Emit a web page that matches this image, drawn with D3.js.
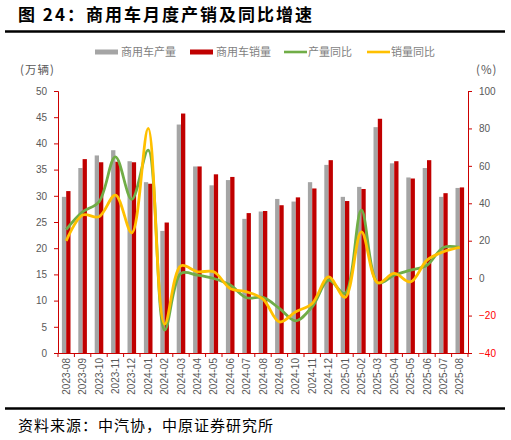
<!DOCTYPE html>
<html>
<head>
<meta charset="utf-8">
<script src="https://cdn.jsdelivr.net/npm/d3@7"></script>
<style>
  body { margin: 0; background: #fff; }
  text { font-family: "Noto Sans CJK SC", "Noto Sans", sans-serif; }
</style>
</head>
<body>
<div id="chart"></div>
<script>
var months = ["2023-08","2023-09","2023-10","2023-11","2023-12","2024-01","2024-02","2024-03","2024-04",
  "2024-05","2024-06","2024-07","2024-08","2024-09","2024-10","2024-11","2024-12","2025-01","2025-02",
  "2025-03","2025-04","2025-05","2025-06","2025-07","2025-08"];

// 万辆
var production = [29.8,35.3,37.7,38.7,36.6,32.6,23.3,43.6,35.6,32.0,33.0,25.6,27.0,29.4,28.9,32.6,35.9,
  29.8,31.7,43.1,36.2,33.5,35.3,29.8,31.5];
var sales = [30.9,37.0,36.4,36.5,36.4,32.3,24.9,45.7,35.6,34.1,33.6,26.7,27.1,28.2,29.7,31.4,36.8,
  29.0,31.3,44.7,36.6,33.3,36.8,30.5,31.6];

// %
var prodYoy = [26.0,35.4,40.8,64.8,42.1,68.4,-27.8,2.5,1.6,-0.2,-3.7,-10.5,-10.3,-16.2,-22.8,-15.3,-1.1,
  -8.2,36.3,-2.5,1.6,4.3,6.9,16.4,16.4];
var salesYoy = [19.9,33.7,32.8,44.4,24.2,80.0,-24.6,6.6,3.4,3.4,-5.5,-7.3,-11.2,-23.4,-18.0,-13.5,0.7,
  -10.3,24.7,-2.5,2.5,-2.0,9.6,14.1,16.4];

var leftTicks = [0,5,10,15,20,25,30,35,40,45,50];
var rightTicks = [-40,-20,0,20,40,60,80,100];

var width = 511, height = 440;
var margin = {left: 58, right: 43, top: 91, bottom: 87};
var grey = "#595959", axisRed = "#cc0000";

var svg = d3.select("#chart").append("svg")
    .attr("width", width)
    .attr("height", height);

// title
svg.append("text")
    .attr("x", 18).attr("y", 21)
    .style("font-size", "17px").style("font-weight", "bold")
    .style("letter-spacing", "2px")
    .attr("fill", "#000")
    .text("图 24：商用车月度产销及同比增速");
svg.append("line")
    .attr("x1", 5).attr("x2", 505).attr("y1", 31.5).attr("y2", 31.5)
    .attr("stroke", "#000").attr("stroke-width", 2.5);

var x = d3.scaleBand()
    .domain(months)
    .range([margin.left, width - margin.right]);

var y = d3.scaleLinear()
    .domain([0, 50])
    .range([height - margin.bottom, margin.top]);

var y2 = d3.scaleLinear()
    .domain([-40, 100])
    .range([height - margin.bottom, margin.top]);

var barW = 4.3;

// bars
svg.append("g").selectAll("rect")
    .data(production)
  .enter().append("rect")
    .attr("x", (d, i) => x(months[i]) + x.bandwidth() / 2 - barW)
    .attr("y", d => y(d))
    .attr("width", barW)
    .attr("height", d => y(0) - y(d))
    .attr("fill", "#a5a5a5");

svg.append("g").selectAll("rect")
    .data(sales)
  .enter().append("rect")
    .attr("x", (d, i) => x(months[i]) + x.bandwidth() / 2)
    .attr("y", d => y(d))
    .attr("width", barW)
    .attr("height", d => y(0) - y(d))
    .attr("fill", "#c00000");

// lines
var line = d3.line()
    .x((d, i) => x(months[i]) + x.bandwidth() / 2)
    .y(d => y2(d))
    .curve(d3.curveCatmullRom.alpha(0.5));

svg.append("path")
    .datum(prodYoy)
    .attr("d", line)
    .attr("fill", "none")
    .attr("stroke", "#70ad47")
    .attr("stroke-width", 2.8);

svg.append("path")
    .datum(salesYoy)
    .attr("d", line)
    .attr("fill", "none")
    .attr("stroke", "#ffc000")
    .attr("stroke-width", 2.8);

// left axis
var gl = svg.append("g")
    .attr("transform", "translate(" + margin.left + ",0)")
    .call(d3.axisLeft(y).tickValues(leftTicks).tickSize(4).tickPadding(7));
gl.select(".domain").attr("stroke", axisRed);
gl.selectAll(".tick line").attr("stroke", axisRed);
gl.selectAll(".tick text").attr("fill", grey).style("font-size", "10px")
    .style("font-family", "'Liberation Sans', Arial, sans-serif");

// right axis
var gr = svg.append("g")
    .attr("transform", "translate(" + (width - margin.right) + ",0)")
    .call(d3.axisRight(y2).tickValues(rightTicks).tickSize(4).tickPadding(7));
gr.select(".domain").attr("stroke", axisRed);
gr.selectAll(".tick line").attr("stroke", axisRed);
gr.selectAll(".tick text")
    .attr("fill", d => d < 0 ? "#ff0000" : grey)
    .style("font-size", "10px")
    .style("font-family", "'Liberation Sans', Arial, sans-serif");

// x axis
var gx = svg.append("g")
    .attr("transform", "translate(0," + y(0) + ")")
    .call(d3.axisBottom(x).tickSize(0).tickPadding(0));
gx.select(".domain").attr("stroke", axisRed);
gx.selectAll(".tick text")
    .attr("fill", grey)
    .style("font-size", "10px")
    .style("font-family", "'Liberation Sans', Arial, sans-serif")
    .attr("text-anchor", "end")
    .attr("transform", "translate(0,5) rotate(-90)")
    .attr("dy", "0.35em")
    .attr("y", 0);
gx.selectAll(".sep")
    .data(months.concat(["end"]))
  .enter().append("line")
    .attr("class", "sep")
    .attr("x1", (d, i) => margin.left + i * x.bandwidth())
    .attr("x2", (d, i) => margin.left + i * x.bandwidth())
    .attr("y1", 0).attr("y2", 4)
    .attr("stroke", axisRed);

// unit labels
svg.append("text").attr("x", 20).attr("y", 74)
    .attr("fill", grey).style("font-size", "11.5px").style("letter-spacing", "1px").text("(万辆)");
svg.append("text").attr("x", 476).attr("y", 74)
    .attr("fill", grey).style("font-size", "11.5px").style("letter-spacing", "1px").text("(%)");

// legend
var legend = [
  {name: "商用车产量", color: "#a5a5a5", type: "bar", x: 95},
  {name: "商用车销量", color: "#c00000", type: "bar", x: 190},
  {name: "产量同比", color: "#70ad47", type: "line", x: 284},
  {name: "销量同比", color: "#ffc000", type: "line", x: 367}
];
var lg = svg.append("g").selectAll("g")
    .data(legend)
  .enter().append("g")
    .attr("transform", d => "translate(" + d.x + ",52)");
lg.append("rect")
    .attr("x", 0).attr("y", d => d.type === "bar" ? -2.5 : -1.3)
    .attr("width", 23).attr("height", d => d.type === "bar" ? 5 : 2.6)
    .attr("fill", d => d.color);
lg.append("text")
    .attr("x", d => d.type === "bar" ? 26 : 24).attr("dy", "0.35em")
    .attr("fill", "#7f7f7f").style("font-size", "11px")
    .text(d => d.name);

// footer
svg.append("line")
    .attr("x1", 5).attr("x2", 505).attr("y1", 408.5).attr("y2", 408.5)
    .attr("stroke", "#000").attr("stroke-width", 2.5);
svg.append("text")
    .attr("x", 18).attr("y", 431)
    .style("font-size", "15px").style("letter-spacing", "1px")
    .attr("fill", "#000")
    .text("资料来源：中汽协，中原证券研究所");
</script>
</body>
</html>
